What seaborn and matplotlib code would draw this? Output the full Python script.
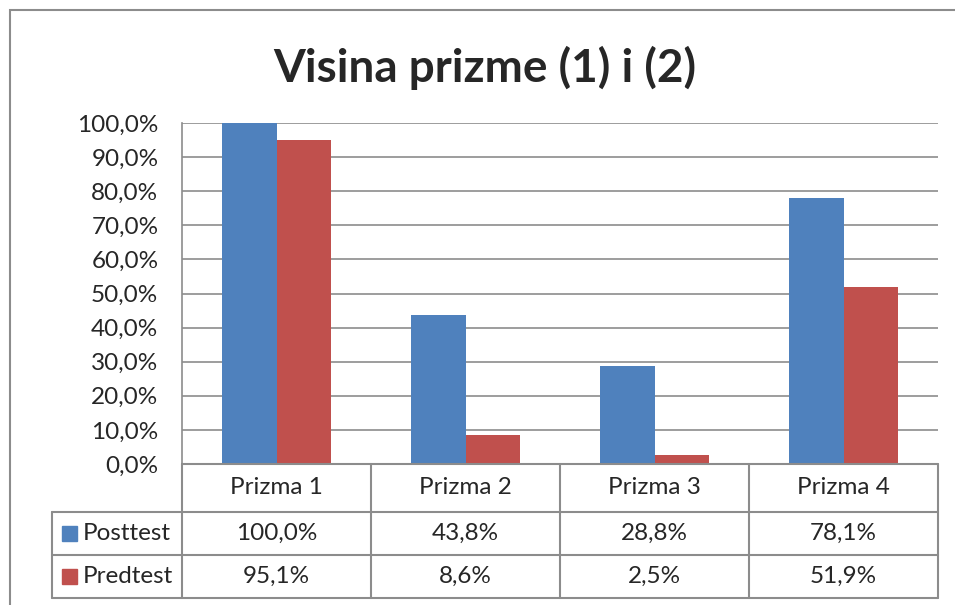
import numpy as np
import pandas as pd
import seaborn as sns
import matplotlib.pyplot as plt
from matplotlib.lines import Line2D
from matplotlib.patches import Rectangle

# data
kategorije = ["Prizma 1", "Prizma 2", "Prizma 3", "Prizma 4"]
serije = ["Posttest", "Predtest"]
posttest = [1.000, 0.438, 0.288, 0.781]
predtest = [0.951, 0.086, 0.025, 0.519]
boje = ["#4F81BD", "#C0504D"]
naslov = "Visina prizme (1) i (2)"

def fmt(v):
    return f"{v * 100:.1f}%".replace(".", ",")

df = pd.DataFrame({
    "kategorija": kategorije * 2,
    "vrijednost": posttest + predtest,
    "serija": [serije[0]] * 4 + [serije[1]] * 4,
})

sns.set_style("white")
plt.rcParams["font.family"] = ["Lato", "DejaVu Sans"]
fs = 17.5

W, H = 955, 605
fig = plt.figure(figsize=(W / 100, H / 100), dpi=100)
L, R, T, B = 182, 938, 123, 464
ax = fig.add_axes([L / W, 1 - B / H, (R - L) / W, (B - T) / H])

sns.barplot(data=df, x="kategorija", y="vrijednost", hue="serija",
            palette=boje, width=0.572, legend=False, ax=ax,
            saturation=1, edgecolor="none")

ax.set_xlim(-0.5, 3.5)
ax.set_ylim(0, 1.0)
ax.set_yticks(np.arange(0, 1.01, 0.1))
ax.set_yticklabels([fmt(v) for v in np.arange(0, 1.01, 0.1)], fontsize=fs)
ax.set_xticks([])
ax.set_xlabel("")
ax.set_ylabel("")
ax.tick_params(axis="y", length=0, pad=17)
ax.yaxis.grid(True, color="#8c8c8c", linewidth=1.2)
ax.set_axisbelow(True)
for s in ["top", "right", "bottom"]:
    ax.spines[s].set_visible(False)
ax.spines["left"].set_color("#8c8c8c")
ax.spines["left"].set_linewidth(1.2)

fig.text(485 / W, 1 - 68 / H, naslov, ha="center", va="center",
         fontsize=33, fontweight="bold")

# data table below the axis
def fx(px):
    return px / W

def fy(py):
    return 1 - py / H

lc = "#8c8c8c"
col_x = [L + i * (R - L) / 4 for i in range(5)]
rows = [464, 512, 555, 598]
leg_x = 52

def line(x0, y0, x1, y1):
    fig.add_artist(Line2D([fx(x0), fx(x1)], [fy(y0), fy(y1)], color=lc, lw=1.5))

line(L, rows[0], R, rows[0])
for y in rows[1:]:
    line(leg_x, y, R, y)
for x in col_x:
    line(x, rows[0], x, rows[3])
line(leg_x, rows[1], leg_x, rows[3])

for i, k in enumerate(kategorije):
    cx = (col_x[i] + col_x[i + 1]) / 2
    fig.text(fx(cx), fy((rows[0] + rows[1]) / 2), k, ha="center", va="center", fontsize=fs)
    fig.text(fx(cx), fy((rows[1] + rows[2]) / 2), fmt(posttest[i]), ha="center", va="center", fontsize=fs)
    fig.text(fx(cx), fy((rows[2] + rows[3]) / 2), fmt(predtest[i]), ha="center", va="center", fontsize=fs)

for j, (ser, c) in enumerate(zip(serije, boje)):
    yc = (rows[j + 1] + rows[j + 2]) / 2
    fig.add_artist(Rectangle((fx(62), fy(yc + 7)), 15 / W, 15 / H, color=c))
    fig.text(fx(83), fy(yc), ser, ha="left", va="center", fontsize=fs)

# chart frame
fig.add_artist(Rectangle((fx(10), -0.1), 1.2, fy(10) + 0.1, fill=False,
                         edgecolor="#8c8c8c", lw=1.5))

fig.savefig("out.png", dpi=100)
